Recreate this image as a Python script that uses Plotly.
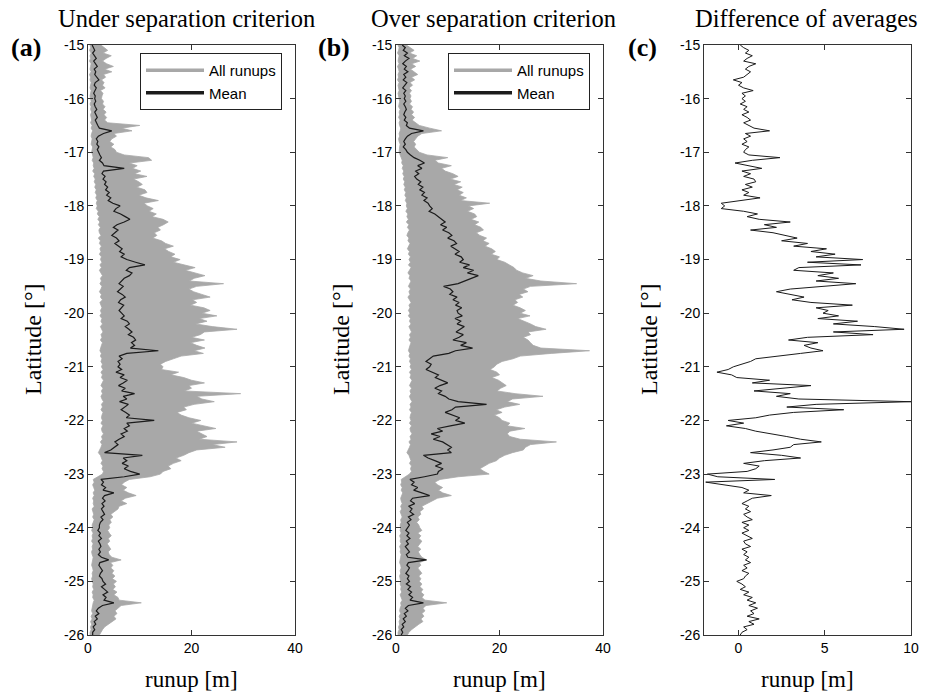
import plotly.graph_objects as go

# Latitude sampling grid (degrees), -15.00 ... -26.00 every 0.05
latitude = [round(-15 - 0.05 * i, 2) for i in range(221)]

# ---------- Panel (a): under separation criterion ----------
mean_a_rows = [
    [0.8,1.0,1.3,0.9,1.2,1.6,1.1,1.4,1.8,1.2,1.5,1.3,1.7,2.1,1.4,1.2,1.6,1.3,1.1,1.4],
    [1.3,1.5,1.2,1.4,1.7,1.3,1.5,1.8,1.4,1.6,1.9,2.2,4.6,3.0,2.0,1.6,1.9,1.7,2.1,1.8],
    [2.0,2.3,2.6,2.2,2.8,3.1,7.0,3.0,2.7,3.3,2.9,3.5,3.2,3.8,3.4,4.1,3.6,4.4,3.9,4.8],
    [6.2,5.4,5.0,6.3,7.2,8.1,7.0,5.6,4.9,5.8,5.2,4.6,5.5,6.0,5.2,5.9,6.6,6.1,7.0,6.4],
    [7.5,9.2,11.0,8.0,7.4,8.5,8.0,7.0,6.4,6.0,6.8,6.2,5.7,6.6,7.2,6.3,5.9,6.9,6.4,6.0],
    [6.5,7.0,6.4,7.6,8.0,7.2,7.9,8.5,7.8,8.8,9.2,8.4,9.0,8.2,13.6,7.5,6.0,6.6,5.8,6.2],
    [5.8,6.5,5.4,7.0,6.2,7.6,6.8,5.9,7.2,6.5,9.0,6.8,7.5,6.1,7.8,7.0,6.4,7.3,8.0,7.4],
    [12.8,7.5,8.0,7.0,7.6,6.4,7.0,6.0,5.2,5.8,5.0,4.4,3.2,10.5,6.8,7.5,6.6,7.8,7.0,8.2],
    [10.0,7.0,2.5,3.0,2.6,3.4,2.9,5.0,3.2,2.8,3.3,2.7,3.1,2.6,2.9,3.2,2.5,2.9,2.4,2.2],
    [2.2,1.9,2.4,2.1,2.6,2.0,2.3,2.5,2.1,2.4,2.0,2.6,4.0,2.3,2.1,2.5,2.8,2.4,2.2,2.7],
    [2.9,3.4,2.6,3.2,3.8,2.9,3.5,3.1,5.0,2.8,2.0,1.6,2.1,1.4,1.8,1.2,1.5,1.0,1.3,0.9],
    [0.9],
]
max_a_rows = [
    [2.5,3.2,3.8,2.9,4.5,3.5,2.8,3.6,4.9,3.2,4.6,3.0,3.4,2.6,3.1,2.8,3.3,2.4,2.9,2.7],
    [2.6,3.0,2.8,3.3,2.9,3.5,3.1,3.6,3.2,3.8,10.0,6.5,8.5,5.0,5.5,4.6,4.2,5.0,4.4,5.2],
    [5.5,7.0,11.7,12.3,8.0,9.5,8.6,10.2,9.0,11.4,8.8,9.8,10.5,9.4,11.0,11.4,9.8,11.2,13.6,10.8],
    [11.5,12.6,11.8,13.2,12.4,14.5,15.5,14.6,13.5,14.0,12.8,13.3,12.5,14.2,15.0,16.5,14.8,15.6,16.8,16.0],
    [17.8,16.5,18.6,20.7,18.8,21.0,22.6,20.5,19.6,26.2,21.0,19.5,20.4,22.0,23.6,20.2,21.0,19.8,22.4,23.6],
    [22.0,24.9,21.5,23.0,20.8,24.0,28.8,22.5,21.7,20.0,22.5,19.8,21.0,22.6,20.5,22.3,18.0,16.5,15.0,14.0],
    [14.5,14.2,17.5,16.0,18.5,20.0,22.5,19.5,20.0,18.6,29.5,21.0,22.0,24.4,20.5,18.5,19.0,17.2,18.0,19.5],
    [21.8,20.0,22.5,24.7,21.0,22.0,23.0,21.5,28.8,24.0,26.5,21.0,19.5,18.5,17.0,18.0,16.5,15.5,16.0,14.5],
    [14.0,12.0,8.0,7.0,6.5,7.5,6.8,7.8,9.3,7.2,6.4,7.5,6.0,5.8,5.0,4.4,4.8,4.2,4.5,4.0],
    [4.2,3.8,4.1,4.5,3.9,4.2,3.7,4.0,4.4,3.9,4.1,4.6,6.4,4.3,4.8,4.4,5.0,4.6,5.2,4.7],
    [5.5,4.9,5.3,4.8,5.6,5.0,5.8,6.0,10.3,6.4,5.8,5.2,5.6,5.0,5.4,4.6,4.0,3.2,2.8,2.5],
    [2.2],
]
min_a_rows = [
    [0.4,0.5,0.3,0.6,0.4,0.5,0.3,0.6,0.5,0.4,0.6,0.3,0.5,0.4,0.6,0.5,0.4,0.6,0.5,0.4],
    [0.5,0.6,0.4,0.6,0.5,0.7,0.5,0.6,0.7,0.5,0.8,0.6,0.9,0.7,0.6,0.8,0.7,0.6,0.9,0.8],
    [0.7,0.9,1.0,0.8,1.1,1.0,1.2,0.9,1.3,1.1,1.4,1.2,1.5,1.3,1.6,1.4,1.7,1.5,1.8,1.6],
    [1.8,1.6,2.0,1.8,2.2,1.9,2.3,2.0,2.4,2.1,2.2,2.5,2.0,2.4,2.2,2.6,2.3,2.5,2.2,2.6],
    [2.4,2.7,2.3,2.6,2.2,2.5,2.8,2.4,2.6,2.3,2.7,2.5,2.2,2.6,2.4,2.8,2.3,2.5,2.7,2.4],
    [2.6,2.3,2.7,2.5,2.8,2.4,2.6,2.9,2.5,2.7,2.4,2.8,2.6,2.5,2.3,2.6,2.4,2.7,2.5,2.8],
    [2.6,2.9,2.5,2.8,2.6,3.0,2.7,2.5,2.9,2.6,2.8,2.5,2.7,3.0,2.6,2.8,2.5,2.9,2.7,2.6],
    [2.8,2.5,2.9,2.6,2.7,3.0,2.6,2.8,2.4,2.7,2.5,2.3,2.0,2.4,2.6,2.8,2.5,2.9,2.7,3.0],
    [2.8,2.0,1.0,1.2,0.9,1.1,1.3,1.0,1.2,0.9,1.1,1.0,1.2,0.8,1.0,1.1,0.9,1.2,1.0,0.8],
    [0.9,0.7,1.0,0.8,0.9,0.7,1.0,0.8,0.9,0.7,0.8,1.0,0.9,0.8,0.7,0.9,1.0,0.8,0.9,0.7],
    [0.8,1.0,0.9,1.1,0.8,1.0,0.9,1.2,1.0,0.9,0.8,0.7,0.9,0.6,0.8,0.5,0.7,0.5,0.6,0.4],
    [0.4],
]

# ---------- Panel (b): over separation criterion ----------
mean_b_rows = [
    [1.2,1.8,1.4,2.2,1.6,2.5,1.8,1.3,2.0,1.6,2.3,1.5,1.9,1.4,2.1,1.7,1.3,1.9,1.5,1.8],
    [1.6,1.9,1.5,1.8,2.0,1.7,1.5,1.9,1.6,2.2,2.0,2.6,5.3,3.0,2.2,1.8,1.5,1.8,1.4,1.9],
    [2.2,2.8,3.5,4.6,5.5,4.2,5.0,3.8,4.4,3.6,4.0,4.8,4.3,5.2,4.6,5.5,5.0,6.0,5.4,6.2],
    [6.5,7.0,6.4,7.5,8.2,8.8,9.5,8.6,9.8,9.0,10.2,10.8,10.0,11.2,11.7,10.6,11.5,12.2,11.4,12.6],
    [13.0,12.3,14.2,13.0,15.0,13.8,15.9,14.6,13.5,12.0,9.2,10.5,11.0,10.4,11.8,11.0,12.2,11.5,12.7,11.8],
    [12.0,12.8,11.4,12.5,11.8,13.2,12.4,11.6,13.0,12.2,11.0,13.6,12.5,14.8,11.5,10.2,7.2,6.5,5.8,6.8],
    [6.5,5.8,7.0,8.2,7.6,9.0,10.0,8.5,7.5,8.8,8.2,9.5,10.2,12.0,17.5,11.5,10.8,9.5,11.0,12.3],
    [11.5,13.3,10.5,8.0,9.0,6.8,8.5,7.2,9.0,9.8,10.7,10.0,10.7,5.3,6.2,7.5,8.8,7.6,9.1,8.2],
    [8.0,5.5,2.7,3.5,3.0,4.2,3.4,5.0,6.5,3.2,2.8,3.6,2.5,3.1,2.7,3.4,2.4,2.9,2.2,2.6],
    [2.3,1.9,2.5,2.1,2.7,2.0,2.4,1.8,2.2,2.6,2.0,2.3,5.9,2.4,2.1,2.6,2.3,1.9,2.5,2.2],
    [2.6,2.0,2.8,2.3,3.0,2.5,3.2,2.7,5.3,2.4,1.8,2.3,1.6,2.0,1.4,1.8,1.2,1.5,1.0,1.3],
    [1.0],
]
max_b_rows = [
    [2.0,2.8,3.5,2.6,4.0,3.2,4.6,3.0,3.8,2.8,3.4,4.2,3.0,3.6,2.7,3.2,2.5,3.0,2.6,2.9],
    [2.7,3.0,2.6,3.2,2.9,3.4,3.0,3.6,3.1,3.8,4.5,6.5,8.8,5.0,4.2,3.8,3.4,3.8,3.5,4.0],
    [4.5,6.0,10.0,7.5,8.2,10.7,8.8,9.5,11.0,12.0,10.5,12.5,11.2,12.8,11.8,13.0,12.2,13.6,12.5,18.1],
    [14.0,15.0,13.8,15.2,15.6,14.5,16.0,15.2,16.4,16.9,15.5,16.2,17.5,16.8,18.0,17.2,18.5,19.2,18.4,20.0],
    [19.5,21.0,22.0,22.8,23.3,24.5,26.5,25.0,28.0,34.9,26.0,24.6,25.5,23.8,24.5,23.0,23.5,22.6,24.0,25.0],
    [24.0,25.9,23.5,24.8,26.0,27.0,29.0,25.5,26.0,24.6,25.5,26.0,26.5,28.0,37.4,30.0,24.0,22.6,20.5,19.5],
    [19.0,18.2,19.5,20.0,18.5,19.8,20.5,21.3,20.2,19.5,23.0,28.4,22.5,21.5,23.9,21.0,19.4,20.5,19.0,20.0],
    [20.5,22.0,21.5,24.9,22.0,21.5,22.0,24.0,31.0,26.0,25.0,24.6,22.5,21.0,20.0,19.4,18.0,17.0,16.2,17.0],
    [18.0,12.0,8.5,7.5,8.0,9.0,8.2,9.0,10.7,8.0,7.0,6.2,5.0,5.3,4.6,4.8,4.2,4.5,4.0,4.4],
    [4.6,5.0,4.2,4.8,4.4,5.0,4.6,4.2,4.8,4.3,4.6,5.0,5.9,4.5,4.8,4.2,4.6,5.0,4.4,4.8],
    [4.5,5.0,4.6,5.2,4.8,5.4,5.0,5.6,9.8,5.8,5.2,5.6,5.0,5.4,4.8,5.2,4.4,3.6,3.0,2.5],
    [2.2],
]
min_b_rows = [
    [0.4,0.6,0.5,0.3,0.6,0.5,0.4,0.6,0.3,0.5,0.6,0.4,0.5,0.3,0.6,0.4,0.5,0.6,0.4,0.5],
    [0.5,0.7,0.6,0.5,0.8,0.6,0.7,0.5,0.8,0.6,0.7,0.9,0.8,0.6,0.7,0.5,0.6,0.8,0.7,0.6],
    [0.6,0.8,1.0,1.2,1.1,1.4,1.2,1.5,1.3,1.6,1.4,1.7,1.5,1.8,1.6,1.9,1.7,2.0,1.8,2.1],
    [2.0,2.2,1.9,2.3,2.1,2.4,2.0,2.5,2.2,2.6,2.3,2.1,2.5,2.3,2.7,2.4,2.2,2.6,2.4,2.8],
    [2.5,2.8,2.4,2.9,2.6,2.3,2.7,2.5,2.9,2.6,2.4,2.8,2.5,2.7,2.3,2.6,2.9,2.5,2.7,2.4],
    [2.7,2.4,2.8,2.6,2.9,2.5,2.7,3.0,2.6,2.8,2.5,2.9,2.7,2.6,2.4,2.7,2.5,2.8,2.6,2.9],
    [2.7,3.0,2.6,2.9,2.7,3.1,2.8,2.6,3.0,2.7,2.9,2.6,2.8,3.1,2.7,2.9,2.6,3.0,2.8,2.7],
    [2.9,2.6,3.0,2.7,2.8,3.1,2.7,2.9,2.5,2.8,2.6,2.4,2.1,2.5,2.7,2.9,2.6,3.0,2.8,3.0],
    [2.6,1.8,1.0,1.1,0.9,1.2,1.0,1.3,1.1,0.9,1.0,1.2,0.9,1.1,0.8,1.0,1.2,0.9,1.0,0.8],
    [0.9,0.8,1.0,0.7,0.9,0.8,1.0,0.7,0.9,0.8,1.0,0.9,0.8,0.7,0.9,1.0,0.8,0.9,0.7,0.8],
    [0.9,0.8,1.0,0.9,1.1,0.8,1.0,1.2,0.9,1.0,0.8,0.7,0.9,0.6,0.8,0.6,0.7,0.5,0.6,0.4],
    [0.4],
]

# ---------- Panel (c): difference of averages ----------
diff_rows = [
    [0.1,0.3,0.6,0.4,0.8,0.5,0.3,1.0,0.6,0.4,0.7,0.5,0.3,-0.3,0.2,0.0,0.3,0.85,0.2,0.4],
    [0.2,0.4,0.1,0.5,0.3,0.6,0.2,0.5,0.7,0.3,0.6,0.9,1.8,0.4,0.7,0.3,0.5,0.2,0.6,0.4],
    [0.3,0.6,2.4,0.8,-0.2,0.5,1.35,0.2,0.7,0.3,0.9,1.0,0.4,0.8,0.2,0.6,0.3,1.25,0.1,-1.0],
    [-0.8,-1.0,0.3,1.1,0.5,1.2,3.0,1.5,2.2,0.7,2.0,2.8,3.4,2.5,4.0,3.2,5.1,4.2,5.6,4.5],
    [7.2,4.0,7.1,3.5,3.2,5.5,4.6,5.8,4.5,6.8,4.7,3.0,2.2,3.0,3.8,3.1,4.2,6.6,4.5,5.2],
    [4.9,5.8,4.6,6.9,5.5,7.9,9.6,5.5,7.8,4.0,2.9,4.6,3.8,4.2,4.9,3.6,2.4,1.0,0.7,0.2],
    [-0.3,-0.6,-1.25,-0.4,-0.1,1.8,0.8,4.2,2.5,0.9,3.0,2.2,3.5,10.0,4.5,2.8,6.1,3.2,1.8,1.0],
    [-0.6,0.3,-0.7,0.4,1.0,2.0,2.8,3.6,4.8,3.2,3.0,2.0,0.7,2.5,3.6,1.5,0.3,1.2,1.0,0.5],
    [-1.8,-1.2,2.1,-1.9,-0.7,0.2,0.6,0.3,1.9,0.8,0.5,0.2,0.6,0.4,0.7,0.3,0.5,0.8,0.2,0.6],
    [0.3,0.6,0.2,0.5,0.8,0.3,0.4,0.7,0.2,0.5,0.3,0.6,0.4,0.7,0.3,0.5,0.2,0.6,0.4,0.3],
    [-0.1,0.2,0.4,0.1,0.6,0.3,0.8,0.5,1.0,0.6,1.1,0.7,0.9,0.5,1.2,0.6,0.9,0.3,0.5,0.2],
    [0.1],
]

lat_ticks = [-15, -16, -17, -18, -19, -20, -21, -22, -23, -24, -25, -26]
lat_ticktext = ["-15", "-16", "-17", "-18", "-19", "-20", "-21", "-22", "-23", "-24", "-25", "-26"]
runup_ticks = [0, 20, 40]
diff_ticks = [0, 5, 10]

titles = ["Under separation criterion", "Over separation criterion", "Difference of averages"]
panel_labels = ["(a)", "(b)", "(c)"]


def flat(rows):
    return [v for r in rows for v in r]


mean_a, max_a, min_a = flat(mean_a_rows), flat(max_a_rows), flat(min_a_rows)
mean_b, max_b, min_b = flat(mean_b_rows), flat(max_b_rows), flat(min_b_rows)
diff = flat(diff_rows)

GRAY = "#a8a8a8"
BLACK = "#1b1b1b"
W, H = 927, 694

fig = go.Figure()


def add_runup_panel(mn, mx, mean, xa, ya, leg):
    fig.add_trace(go.Scatter(x=mn, y=latitude, mode="lines", line=dict(color=GRAY, width=0.8),
                             xaxis=xa, yaxis=ya, showlegend=False, hoverinfo="skip"))
    fig.add_trace(go.Scatter(x=mx, y=latitude, mode="lines", fill="tonextx", fillcolor=GRAY,
                             line=dict(color=GRAY, width=0.8),
                             xaxis=xa, yaxis=ya, showlegend=False, hoverinfo="skip"))
    fig.add_trace(go.Scatter(x=mean, y=latitude, mode="lines", line=dict(color=BLACK, width=1.2),
                             xaxis=xa, yaxis=ya, showlegend=False))
    # legend entries
    fig.add_trace(go.Scatter(x=[None], y=[None], mode="lines", line=dict(color=GRAY, width=3.5),
                             name="All runups", xaxis=xa, yaxis=ya, legend=leg))
    fig.add_trace(go.Scatter(x=[None], y=[None], mode="lines", line=dict(color=BLACK, width=3.5),
                             name="Mean", xaxis=xa, yaxis=ya, legend=leg))


add_runup_panel(min_a, max_a, mean_a, "x", "y", "legend")
add_runup_panel(min_b, max_b, mean_b, "x2", "y2", "legend2")
fig.add_trace(go.Scatter(x=diff, y=latitude, mode="lines", line=dict(color=BLACK, width=1.0),
                         xaxis="x3", yaxis="y3", showlegend=False))

# geometry (pixels)
px_left = [88, 396, 704]
px_right = [295, 603, 911]
px_top, px_bottom = 45, 635
ydom = [1 - px_bottom / H, 1 - px_top / H]

axis_common = dict(showline=True, linecolor="#333333", linewidth=1, mirror="ticks",
                   ticks="inside", ticklen=5, tickcolor="#333333", showgrid=False,
                   zeroline=False, automargin=False,
                   tickfont=dict(family="Liberation Sans", size=14, color="black"))

layout = dict(width=W, height=H, margin=dict(l=0, r=0, t=0, b=0, autoexpand=False),
              paper_bgcolor="white", plot_bgcolor="white", showlegend=True)
xranges = [[0, 40], [0, 40], [-2, 10]]
xtickvals = [runup_ticks, runup_ticks, diff_ticks]
for i in range(3):
    xk = "xaxis" if i == 0 else f"xaxis{i+1}"
    yk = "yaxis" if i == 0 else f"yaxis{i+1}"
    ax_id = "x" if i == 0 else f"x{i+1}"
    ay_id = "y" if i == 0 else f"y{i+1}"
    layout[xk] = dict(axis_common, domain=[px_left[i] / W, px_right[i] / W], range=xranges[i],
                      tickvals=xtickvals[i], ticktext=[str(v) for v in xtickvals[i]], anchor=ay_id)
    layout[yk] = dict(axis_common, domain=ydom, range=[-26, -15], tickvals=lat_ticks,
                      ticktext=lat_ticktext, anchor=ax_id)

legend_style = dict(bgcolor="white", bordercolor="#222222", borderwidth=1,
                    font=dict(family="Liberation Sans", size=15, color="black"),
                    xanchor="left", yanchor="top", tracegroupgap=0, itemwidth=58,
                    traceorder="normal")
layout["legend"] = dict(legend_style, x=140 / W, y=1 - 53 / H)
layout["legend2"] = dict(legend_style, x=448 / W, y=1 - 53 / H)

annotations = []
title_cx = [186, 494, 806]
for i in range(3):
    annotations.append(dict(text=titles[i], x=title_cx[i] / W, y=1 - 18 / H, xref="paper", yref="paper",
                            showarrow=False, xanchor="center", yanchor="middle",
                            font=dict(family="Liberation Serif", size=24.5, color="black")))
    annotations.append(dict(text="<b>" + panel_labels[i] + "</b>", x=(px_left[i] - 62) / W, y=1 - 48 / H,
                            xref="paper", yref="paper", showarrow=False, xanchor="center", yanchor="middle",
                            font=dict(family="Liberation Serif", size=26, color="black")))
    annotations.append(dict(text="runup [m]", x=(px_left[i] + px_right[i]) / 2 / W, y=1 - 679 / H,
                            xref="paper", yref="paper", showarrow=False, xanchor="center", yanchor="middle",
                            font=dict(family="Liberation Serif", size=23, color="black")))
    annotations.append(dict(text="Latitude [°]", x=(px_left[i] - 55) / W, y=1 - 339 / H, textangle=-90,
                            xref="paper", yref="paper", showarrow=False, xanchor="center", yanchor="middle",
                            font=dict(family="Liberation Serif", size=24, color="black")))
layout["annotations"] = annotations

fig.update_layout(**layout)
fig.write_html("out.html", config={"displayModeBar": False},
               post_script="document.body.style.margin='0';document.body.style.overflow='hidden';")
